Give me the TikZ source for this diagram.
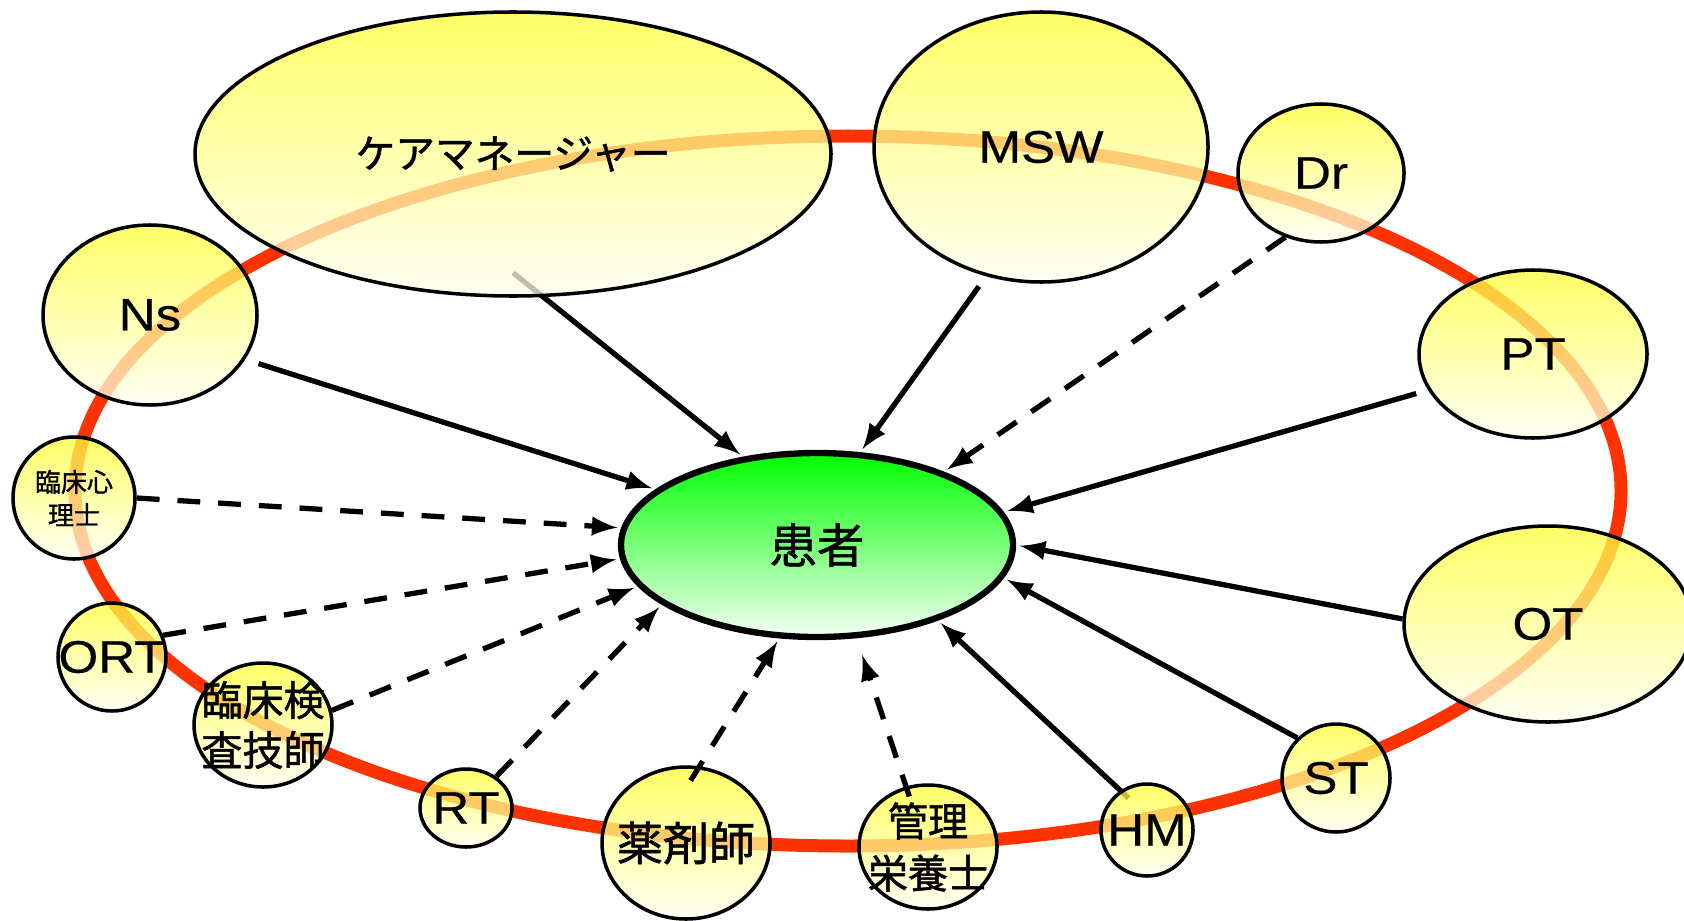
\documentclass[tikz,border=0pt]{standalone}
\usepackage{fontspec}
\setmainfont{Liberation Sans}[FakeStretch=1.12, FakeBold=0.4]
\newfontfamily\jpfont{Noto Sans CJK JP}[FakeBold=1.2]
\usetikzlibrary{arrows}
\usetikzlibrary{shapes}
\pgfdeclarelayer{orbit}
\pgfdeclarelayer{links}
\pgfsetlayers{orbit,links,main}
\definecolor{orbitred}{HTML}{FF3300}
\definecolor{memtop}{HTML}{FFFF33}
\definecolor{membot}{HTML}{FFFFF0}
\definecolor{pattop}{HTML}{00FF00}
\definecolor{patbot}{HTML}{F4FFF4}

\begin{document}
\begin{tikzpicture}[%
        member/.style={ellipse, draw, line width=1pt, inner sep=-1cm, top color=memtop, bottom color=membot, fill opacity=0.75, text opacity=1, align=center},
        patient/.style={ellipse, draw, line width=1.8pt, inner sep=-1cm, top color=pattop, bottom color=patbot},
        lat/.style={font=\fontsize{13}{15.5}\selectfont},
        jp/.style 2 args={font=\jpfont\fontsize{#1}{#2}\selectfont},
        link/.style={->, line width=1.5pt},
        maybe/.style={link, dash pattern=on 6.5pt off 5.1pt},
        shorten >=1pt, >=latex
      ]
      \useasboundingbox (0,0) rectangle (16.84,9.20);
      \begin{pgfonlayer}{orbit}
        \draw [orbitred, line width=3.7pt] (8.48,4.29) ellipse [x radius=7.73, y radius=3.55];
      \end{pgfonlayer}
      \node [member, minimum width=6.36cm, minimum height=2.84cm, jp={11.3}{13.5}] (cm) at (5.13,7.66) {ケアマネージャー};
      \node [member, minimum width=3.34cm, minimum height=2.70cm, lat] (msw) at (10.41,7.73) {MSW};
      \node [member, minimum width=1.66cm, minimum height=1.38cm, lat] (dr) at (13.21,7.47) {Dr};
      \node [member, minimum width=2.14cm, minimum height=1.80cm, lat] (ns) at (1.50,6.05) {Ns};
      \node [member, minimum width=2.28cm, minimum height=1.68cm, lat] (pt) at (15.33,5.66) {PT};
      \node [member, minimum width=2.88cm, minimum height=1.96cm, lat] (ot) at (15.48,2.96) {OT};
      \node [member, minimum size=1.22cm, jp={7.4}{9.4}] (psy) at (0.74,4.22) {臨床心\\理士};
      \node [member, minimum size=1.08cm, lat] (ort) at (1.12,2.63) {ORT};
      \node [member, minimum width=1.38cm, minimum height=1.24cm, jp={11.7}{14.2}] (lab) at (2.63,1.95) {臨床検\\査技師};
      \node [member, minimum width=0.92cm, minimum height=0.78cm, lat] (rt) at (4.66,1.12) {RT};
      \node [member, minimum width=1.68cm, minimum height=1.52cm, jp={13.1}{15.7}] (phar) at (6.86,0.77) {薬剤師};
      \node [member, minimum width=1.38cm, minimum height=1.24cm, jp={11.4}{14.8}] (diet) at (9.28,0.73) {管理\\栄養士};
      \node [member, minimum size=0.92cm, lat] (hm) at (11.47,0.90) {HM};
      \node [member, minimum size=1.08cm, lat] (st) at (13.36,1.42) {ST};
      \node [patient, minimum width=3.92cm, minimum height=1.84cm, jp={13.5}{16}] (pat) at (8.17,3.75) {患者};
      % solid: direct links, dashed: indirect ones
      \begin{pgfonlayer}{links}
        \draw [link, shorten <=-11pt] (cm.-78) -- (pat.130);
        \draw [link, shorten <=-3.2pt] (hm.124) -- (pat.-32);
      \end{pgfonlayer}
      \draw [link, shorten <=4pt] (ns.-25) -- (pat.161);
      \draw [link, shorten <=3.5pt] (msw.-113) -- (pat.65);
      \draw [maybe] (dr.-119) -- (pat.30);
      \draw [link, shorten <=3.5pt] (pt.-161) -- (pat.10);
      \draw [link] (ot.178) -- (pat.east);
      \draw [link] (st.134) -- (pat.-10);
      \draw [maybe, shorten <=-3pt, shorten >=5pt] (diet.110) -- (pat.-67);
      \draw [maybe, shorten <=-4.8pt] (phar.80) -- (pat.-112);
      \draw [maybe] (rt) -- (pat.-159);
      \draw [maybe] (lab.12) -- (pat.-167);
      \draw [maybe] (ort.23) -- (pat.-176);
      \draw [maybe] (psy.east) -- (pat.175);
    \end{tikzpicture}
\end{document}
